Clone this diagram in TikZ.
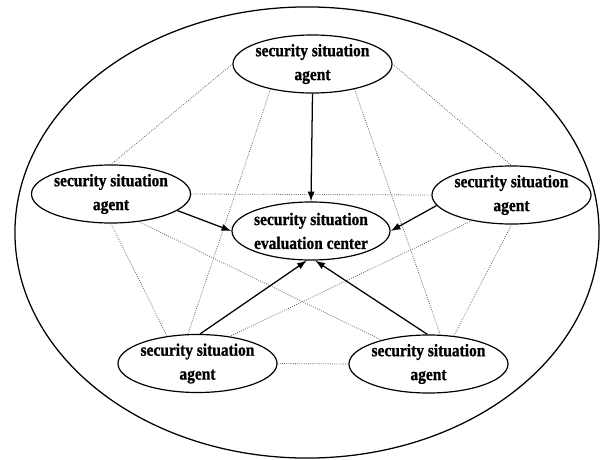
\documentclass[tikz,border=0pt]{standalone}
\usepackage{fontspec}
\setmainfont{Liberation Serif}[FakeStretch=0.88,BoldFeatures={FakeBold=1}]
\usetikzlibrary{shapes.geometric,arrows.meta}
\begin{document}
\begin{tikzpicture}[x=0.025cm,y=-0.025cm,
  agent/.style={ellipse,draw=black,line width=0.85pt,minimum width=3.975cm,minimum height=1.45cm,inner sep=0pt},
  hub/.style={agent,minimum width=3.95cm,minimum height=1.45cm},
  outerbox/.style={ellipse,draw=black,line width=0.9pt,minimum width=14.6cm,minimum height=11.275cm,inner sep=0pt},
  txt/.style={align=center,font=\fontsize{12.5}{17}\selectfont\bfseries,inner sep=0pt},
  link/.style={densely dotted,draw=black!65,line width=0.55pt},
  flow/.style={-{Latex[length=7pt,width=5pt]},line width=0.9pt,draw=black}]
\useasboundingbox (0,0) rectangle (601,460);
\node[outerbox] (system) at (307,232.5) {};
% nodes
\node[agent] (a1) at (312.5,64) {};
\node[txt] (t1) at (a1) {security situation\\agent};
\node[agent] (a2) at (111,194) {};
\node[txt] (t2) at (a2) {security situation\\agent};
\node[agent] (a3) at (511.5,195) {};
\node[txt] (t3) at (a3) {security situation\\agent};
\node[agent] (a4) at (197.5,363.5) {};
\node[txt] (t4) at (a4) {security situation\\agent};
\node[agent] (a5) at (428.5,364) {};
\node[txt] (t5) at (a5) {security situation\\agent};
\node[hub] (c) at (311,231) {};
\node[txt] (tc) at (c) {security situation\\evaluation center};
% dotted links
\draw[link] (a1.west) -- (a2.north);
\draw[link] (a1.east) -- (a3.north);
\draw[link] (a1.211) -- (a4.108);
\draw[link] (a1.329) -- (a5.68);
\draw[link] (a2.east) -- (a3.west);
\draw[link] (a2.south) -- (a4.138);
\draw[link] (a2.315) -- (a5.153);
\draw[link] (a3.213) -- (a4.40);
\draw[link] (a3.south) -- (a5.48);
\draw[link] (a4.east) -- (a5.west);
% arrows
\draw[flow] (a1.south) -- (c.north);
\draw[flow] (a2.346) -- (c.west);
\draw[flow] (a3.188) -- (c.east);
\draw[flow] (a4.85) -- (c.262);
\draw[flow] (a5.92) -- (c.278);
\end{tikzpicture}
\end{document}
